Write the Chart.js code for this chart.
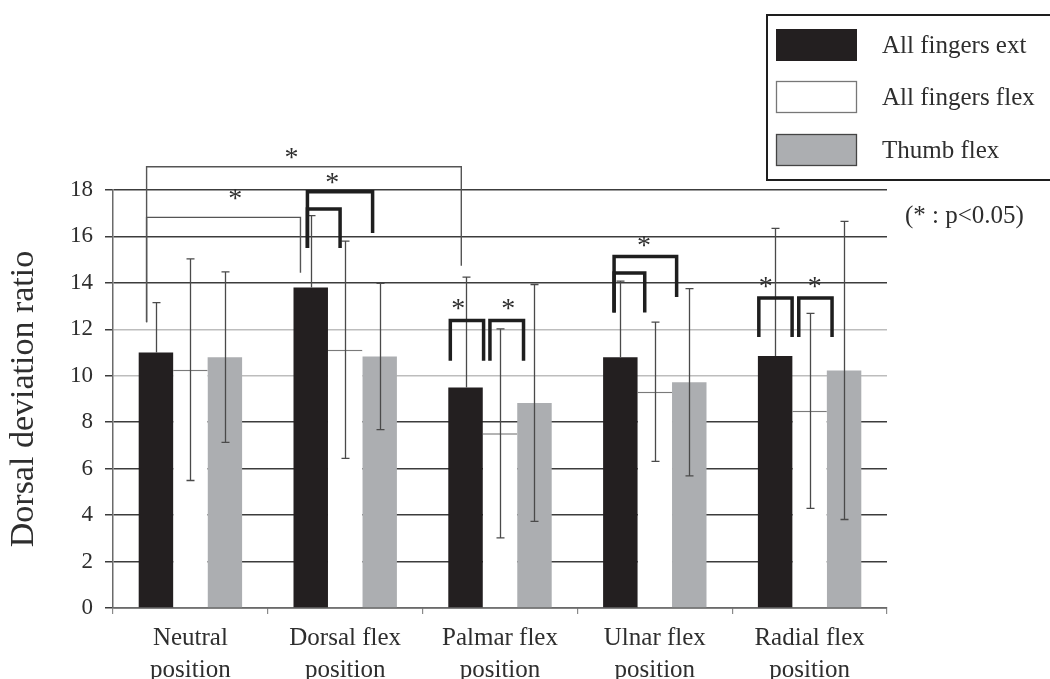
<!DOCTYPE html>
<html>
<head>
<meta charset="utf-8">
<script src="https://cdn.jsdelivr.net/npm/chart.js@4.4.1/dist/chart.umd.min.js"></script>
<style>
  html, body { margin: 0; padding: 0; background: #ffffff; }
  #wrap { width: 1050px; height: 679px; }
</style>
</head>
<body>
<div id="wrap"><canvas id="c" width="1050" height="679"></canvas></div>
<script>
// ---- data ----
const categories = [
  ["Neutral", "position"],
  ["Dorsal flex", "position"],
  ["Palmar flex", "position"],
  ["Ulnar flex", "position"],
  ["Radial flex", "position"]
];
const seriesNames = ["All fingers ext", "All fingers flex", "Thumb flex"];
const extMean   = [11.0, 13.8, 9.5, 10.8, 10.85];
const extSD     = [2.15, 3.1, 4.75, 3.28, 5.5];
const flexMean  = [10.26, 11.12, 7.52, 9.31, 8.49];
const flexSD    = [4.77, 4.68, 4.5, 3.0, 4.2];
const thumbMean = [10.8, 10.83, 8.83, 9.72, 10.23];
const thumbSD   = [3.67, 3.15, 5.1, 4.03, 6.42];
const yTickValues = [0, 2, 4, 6, 8, 10, 12, 14, 16, 18];
const yTitle = "Dorsal deviation ratio";
const noteText = "(* : p<0.05)";
// significance brackets: [xStart, xEnd (category units), top, leftLegEnd, rightLegEnd, heavy]
const sigBrackets = [
  [-0.283, 1.75, 19.0, 12.3, 14.74, false],
  [-0.283, 0.711, 16.82, 12.3, 14.44, false],
  [0.756, 0.967, 17.18, 15.5, 15.5, true],
  [0.756, 1.177, 17.92, 15.5, 16.15, true],
  [1.679, 1.894, 12.38, 10.65, 10.65, true],
  [1.935, 2.152, 12.38, 10.65, 10.65, true],
  [2.737, 2.935, 14.43, 12.73, 12.73, true],
  [2.737, 3.141, 15.14, 12.73, 13.39, true],
  [3.672, 3.887, 13.35, 11.67, 11.67, true],
  [3.930, 4.145, 13.35, 11.67, 11.67, true]
];
// asterisks: [x (category units), y (value units, glyph centre)]
const sigStars = [
  [0.653, 19.63], [0.290, 17.89], [0.917, 18.56],
  [1.730, 13.15], [2.053, 13.15], [2.930, 15.86],
  [3.717, 14.07], [4.034, 14.07]
];

const SERIF = '"Liberation Serif", "Times New Roman", "DejaVu Serif", serif';
const TXT = '#2e2e2e';

const errorBars = {
  id: 'errorBars',
  afterDatasetsDraw(chart) {
    const { ctx } = chart;
    const y = chart.scales.y;
    ctx.save();
    ctx.strokeStyle = '#4a4a4a';
    ctx.lineWidth = 1.3;
    chart.data.datasets.forEach((ds, i) => {
      const meta = chart.getDatasetMeta(i);
      meta.data.forEach((bar, j) => {
        const m = ds.data[j], s = ds.sd[j];
        const cx = Math.round(bar.x) + 0.5;
        const yt = y.getPixelForValue(m + s);
        const yb = ds.hideLower ? y.getPixelForValue(m) : y.getPixelForValue(m - s);
        ctx.beginPath();
        ctx.moveTo(cx, yt); ctx.lineTo(cx, yb);
        ctx.moveTo(cx - 4, yt); ctx.lineTo(cx + 4, yt);
        if (!ds.hideLower) { ctx.moveTo(cx - 4, yb); ctx.lineTo(cx + 4, yb); }
        ctx.stroke();
      });
    });
    ctx.restore();
  }
};

const significance = {
  id: 'significance',
  afterDatasetsDraw(chart) {
    const { ctx } = chart;
    const x = chart.scales.x, y = chart.scales.y;
    ctx.save();
    ctx.lineJoin = 'miter';
    ctx.lineCap = 'butt';
    sigBrackets.forEach(b => {
      const x1 = x.getPixelForValue(b[0]);
      const x2 = x.getPixelForValue(b[1]);
      const yt = y.getPixelForValue(b[2]);
      const yl = y.getPixelForValue(b[3]);
      const yr = y.getPixelForValue(b[4]);
      ctx.strokeStyle = b[5] ? '#1e1e1e' : '#555555';
      ctx.lineWidth = b[5] ? 3.5 : 1.4;
      ctx.beginPath();
      ctx.moveTo(x1, yl); ctx.lineTo(x1, yt); ctx.lineTo(x2, yt); ctx.lineTo(x2, yr);
      ctx.stroke();
    });
    const fs = 28;
    ctx.font = fs + 'px ' + SERIF;
    ctx.fillStyle = TXT;
    ctx.textAlign = 'center';
    ctx.textBaseline = 'alphabetic';
    sigStars.forEach(s => {
      const px = x.getPixelForValue(s[0]);
      const py = y.getPixelForValue(s[1]);
      ctx.fillText('*', px, py + fs * 0.5);
    });
    ctx.restore();
  }
};

const boxLegend = {
  id: 'boxLegend',
  afterDraw(chart) {
    const { ctx } = chart;
    ctx.save();
    ctx.fillStyle = '#ffffff';
    ctx.fillRect(767, 15, 290, 165);
    ctx.strokeStyle = '#1e1e1e';
    ctx.lineWidth = 2;
    ctx.strokeRect(767, 15, 290, 165);
    const rows = [45, 97, 150];
    ctx.font = '25px ' + SERIF;
    ctx.textAlign = 'left';
    ctx.textBaseline = 'middle';
    chart.data.datasets.forEach((ds, i) => {
      const cy = rows[i];
      ctx.fillStyle = ds.backgroundColor;
      ctx.fillRect(776, cy - 16, 81, 32);
      if (i > 0) {
        ctx.strokeStyle = i === 1 ? '#777777' : '#444444';
        ctx.lineWidth = 1.3;
        ctx.strokeRect(776.5, cy - 15.5, 80, 31);
      }
      ctx.fillStyle = TXT;
      ctx.fillText(ds.label, 882, cy + 1);
    });
    ctx.font = '25px ' + SERIF;
    ctx.fillText(noteText, 905, 216);
    ctx.restore();
  }
};

new Chart(document.getElementById('c'), {
  type: 'bar',
  data: {
    labels: categories,
    datasets: [
      { label: seriesNames[0], data: extMean, sd: extSD, hideLower: true,
        backgroundColor: '#231f20', borderWidth: 0 },
      { label: seriesNames[1], data: flexMean, sd: flexSD,
        backgroundColor: '#ffffff', borderColor: '#7a7a7a',
        borderWidth: { top: 1.5, left: 0, right: 0, bottom: 0 }, borderSkipped: false },
      { label: seriesNames[2], data: thumbMean, sd: thumbSD,
        backgroundColor: '#acaeb1', borderWidth: 0 }
    ]
  },
  options: {
    responsive: false,
    animation: false,
    devicePixelRatio: 1,
    layout: { padding: { left: 0, top: 190, right: 163, bottom: 0 } },
    plugins: { legend: { display: false }, tooltip: { enabled: false } },
    datasets: { bar: { categoryPercentage: 0.668, barPercentage: 1.0 } },
    scales: {
      x: {
        afterFit(s) { s.height = 71; },
        grid: { display: true, drawOnChartArea: false, drawTicks: true, tickLength: 6,
                color: '#8a8a8a', lineWidth: 1.2 },
        border: { display: true, color: '#6a6a6a', width: 1.5 },
        ticks: { color: TXT, padding: 8, maxRotation: 0, autoSkip: false,
                 font: { family: SERIF, size: 25, lineHeight: 1.3 } }
      },
      y: {
        min: 0, max: 18,
        afterFit(s) { s.width = 113; },
        afterBuildTicks(s) { s.ticks = yTickValues.map(v => ({ value: v })); },
        grid: {
          color: c => (c.tick && (c.tick.value === 10 || c.tick.value === 12)) ? '#bdbdbd' : '#3c3c3c',
          tickColor: '#3c3c3c',
          lineWidth: 1.5, tickLength: 8, drawTicks: true
        },
        border: { display: true, color: '#6a6a6a', width: 1.5 },
        ticks: { color: TXT, padding: 12, font: { family: SERIF, size: 23 } },
        title: { display: true, text: yTitle, color: TXT,
                 font: { family: SERIF, size: 34 }, padding: { top: 4, bottom: 0 } }
      }
    }
  },
  plugins: [errorBars, significance, boxLegend]
});
</script>
</body>
</html>
